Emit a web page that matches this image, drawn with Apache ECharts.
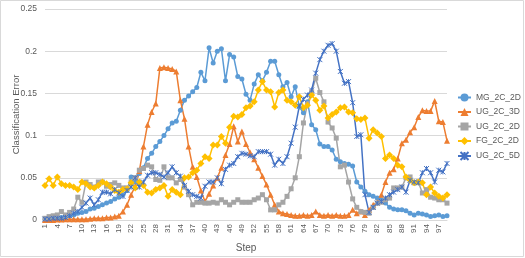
<!DOCTYPE html>
<html>
<head>
<meta charset="utf-8">
<script src="https://cdn.jsdelivr.net/npm/echarts@6/dist/echarts.min.js"></script>
<style>
html,body{margin:0;padding:0;background:#fff;}
#c{width:525px;height:258px;}
</style>
</head>
<body>
<div id="c"></div>
<script>
var steps = ['1','2','3','4','5','6','7','8','9','10','11','12','13','14','15','16','17','18','19','20',
'21','22','23','24','25','26','27','28','29','30','31','32','33','34','35','36','37','38','39','40',
'41','42','43','44','45','46','47','48','49','50','51','52','53','54','55','56','57','58','59','60',
'61','62','63','64','65','66','67','68','69','70','71','72','73','74','75','76','77','78','79','80',
'81','82','83','84','85','86','87','88','89','90','91','92','93','94','95','96','97','98','99'];

var MG_2C_2D = [0.001,0.001,0.002,0.002,0.003,0.004,0.005,0.006,0.008,0.009,
0.010,0.013,0.014,0.016,0.018,0.020,0.022,0.025,0.027,0.030,
0.035,0.051,0.045,0.055,0.062,0.073,0.079,0.087,0.093,0.100,
0.108,0.115,0.117,0.130,0.142,0.147,0.152,0.157,0.175,0.165,
0.204,0.186,0.200,0.203,0.165,0.196,0.193,0.170,0.167,0.149,
0.142,0.161,0.172,0.165,0.175,0.188,0.188,0.172,0.158,0.163,
0.146,0.158,0.134,0.127,0.140,0.113,0.107,0.090,0.087,0.087,
0.083,0.072,0.069,0.067,0.066,0.064,0.045,0.039,0.034,0.030,
0.028,0.026,0.024,0.020,0.015,0.013,0.012,0.012,0.011,0.008,
0.006,0.008,0.007,0.006,0.004,0.005,0.006,0.004,0.005];

var UG_2C_3D = [0.000,0.000,0.000,0.0005,0.0005,0.001,0.001,0.001,0.001,0.001,
0.001,0.0015,0.002,0.002,0.002,0.003,0.003,0.004,0.005,0.010,
0.018,0.030,0.040,0.058,0.087,0.113,0.128,0.138,0.180,0.181,
0.180,0.179,0.176,0.142,0.120,0.087,0.063,0.051,0.035,0.022,
0.031,0.041,0.050,0.062,0.077,0.090,0.111,0.093,0.105,0.090,
0.080,0.072,0.062,0.052,0.042,0.030,0.018,0.010,0.008,0.007,
0.006,0.005,0.005,0.006,0.005,0.006,0.010,0.006,0.005,0.006,
0.005,0.006,0.005,0.005,0.006,0.012,0.008,0.010,0.006,0.012,
0.018,0.021,0.030,0.045,0.056,0.060,0.073,0.091,0.095,0.104,
0.110,0.122,0.130,0.129,0.129,0.141,0.117,0.116,0.094];

var UG_2C_2D = [0.002,0.004,0.005,0.006,0.010,0.006,0.009,0.013,0.027,0.021,
0.045,0.042,0.039,0.045,0.045,0.040,0.042,0.044,0.041,0.038,
0.038,0.045,0.050,0.059,0.061,0.065,0.063,0.048,0.047,0.063,
0.050,0.050,0.044,0.048,0.039,0.030,0.018,0.021,0.021,0.020,
0.020,0.021,0.020,0.024,0.021,0.018,0.021,0.024,0.021,0.021,
0.021,0.024,0.026,0.030,0.024,0.012,0.012,0.018,0.021,0.028,
0.037,0.050,0.075,0.115,0.138,0.152,0.168,0.151,0.140,0.116,
0.109,0.097,0.063,0.065,0.045,0.025,0.015,0.010,0.009,0.008,
0.015,0.020,0.021,0.024,0.026,0.038,0.038,0.039,0.050,0.051,
0.044,0.045,0.032,0.036,0.027,0.026,0.024,0.024,0.020];

var FG_2C_2D = [0.041,0.049,0.041,0.051,0.043,0.041,0.041,0.039,0.036,0.045,
0.043,0.039,0.038,0.041,0.045,0.043,0.039,0.035,0.033,0.036,
0.037,0.044,0.038,0.045,0.041,0.033,0.032,0.036,0.038,0.041,
0.028,0.036,0.033,0.030,0.050,0.051,0.056,0.059,0.067,0.075,
0.073,0.089,0.089,0.099,0.091,0.110,0.123,0.122,0.125,0.133,
0.135,0.140,0.154,0.164,0.154,0.152,0.134,0.151,0.154,0.142,
0.140,0.136,0.146,0.133,0.136,0.148,0.142,0.130,0.135,0.121,
0.125,0.128,0.133,0.134,0.128,0.127,0.120,0.119,0.121,0.097,
0.107,0.103,0.099,0.073,0.077,0.073,0.065,0.063,0.051,0.047,
0.044,0.045,0.044,0.030,0.039,0.032,0.028,0.026,0.030];

var UG_2C_5D = [0.001,0.001,0.002,0.002,0.002,0.003,0.005,0.008,0.010,0.015,
0.020,0.026,0.018,0.024,0.033,0.033,0.031,0.036,0.032,0.028,
0.035,0.039,0.050,0.039,0.045,0.053,0.056,0.056,0.054,0.051,
0.056,0.063,0.056,0.052,0.041,0.034,0.030,0.028,0.026,0.040,
0.045,0.045,0.050,0.043,0.060,0.065,0.067,0.075,0.079,0.078,
0.076,0.075,0.081,0.081,0.081,0.078,0.065,0.072,0.067,0.075,
0.091,0.110,0.135,0.143,0.148,0.154,0.174,0.190,0.200,0.207,
0.209,0.200,0.176,0.162,0.164,0.139,0.099,0.101,0.030,0.009,
0.015,0.020,0.022,0.026,0.030,0.033,0.036,0.039,0.033,0.047,
0.045,0.044,0.056,0.061,0.056,0.045,0.059,0.057,0.067];

var yTicks = [0, 0.05, 0.1, 0.15, 0.2, 0.25];

var txt = '#595959';
var font = '"Liberation Sans", "DejaVu Sans", sans-serif';
var xPath = 'path://M0,0L10,10M10,0L0,10M5,0L5,10';

function mk(name, data, color, symbol, size, extra) {
  var s = {
    name: name, type: 'line', data: data,
    symbol: symbol, symbolSize: size, showSymbol: true, showAllSymbol: true,
    lineStyle: {color: color, width: 1.5},
    itemStyle: {color: color},
    emphasis: {disabled: true},
    animation: false
  };
  if (extra) { for (var k in extra) s[k] = extra[k]; }
  return s;
}

var chart = echarts.init(document.getElementById('c'), null, {renderer: 'canvas'});
chart.setOption({
  backgroundColor: '#fff',
  animation: false,
  textStyle: {fontFamily: font},
  graphic: [{type: 'rect', shape: {x: 0.5, y: 0.5, width: 523, height: 256},
    style: {fill: 'none', stroke: '#D9D9D9', lineWidth: 1}, silent: true}],
  grid: {left: 45, right: 78, top: 9, bottom: 38, containLabel: false, outerBoundsMode: 'none'},
  legend: {
    orient: 'vertical', left: 457, top: 93, padding: 0, itemGap: 5.5, itemWidth: 13, itemHeight: 10,
    textStyle: {color: txt, fontSize: 8.5, fontFamily: font},
    data: ['MG_2C_2D','UG_2C_3D','UG_2C_2D','FG_2C_2D','UG_2C_5D']
  },
  xAxis: {
    type: 'category', data: steps, boundaryGap: false,
    name: 'Step', nameLocation: 'middle', nameGap: 23, nameMoveOverlap: false,
    nameTextStyle: {color: txt, fontSize: 10, fontFamily: font},
    axisLine: {lineStyle: {color: '#D9D9D9'}},
    axisTick: {show: false},
    axisLabel: {interval: 2, rotate: 90, color: txt, fontSize: 8, margin: 4, fontFamily: font},
    splitLine: {show: false}
  },
  yAxis: {
    type: 'value', min: 0, max: 0.25, interval: 0.05,
    name: 'Classification Error', nameLocation: 'middle', nameGap: 24, nameMoveOverlap: false,
    nameTextStyle: {color: txt, fontSize: 9.5, fontFamily: font},
    axisLine: {show: false}, axisTick: {show: false},
    axisLabel: {color: txt, fontSize: 8.5, margin: 8, fontFamily: font,
      formatter: function (v) { var i = yTicks.indexOf(Math.round(v*100)/100); return i >= 0 ? String(yTicks[i]) : String(v); }},
    splitLine: {lineStyle: {color: '#D9D9D9', width: 1}}
  },
  series: [
    mk('MG_2C_2D', MG_2C_2D, '#5B9BD5', 'circle', 5),
    mk('UG_2C_3D', UG_2C_3D, '#ED7D31', 'triangle', 6),
    mk('UG_2C_2D', UG_2C_2D, '#A5A5A5', 'rect', 5),
    mk('FG_2C_2D', FG_2C_2D, '#FFC000', 'diamond', 7),
    mk('UG_2C_5D', UG_2C_5D, '#4472C4', xPath, 5,
      {itemStyle: {color: '#4472C4', borderColor: '#4472C4', borderWidth: 1}})
  ]
});
</script>
</body>
</html>
